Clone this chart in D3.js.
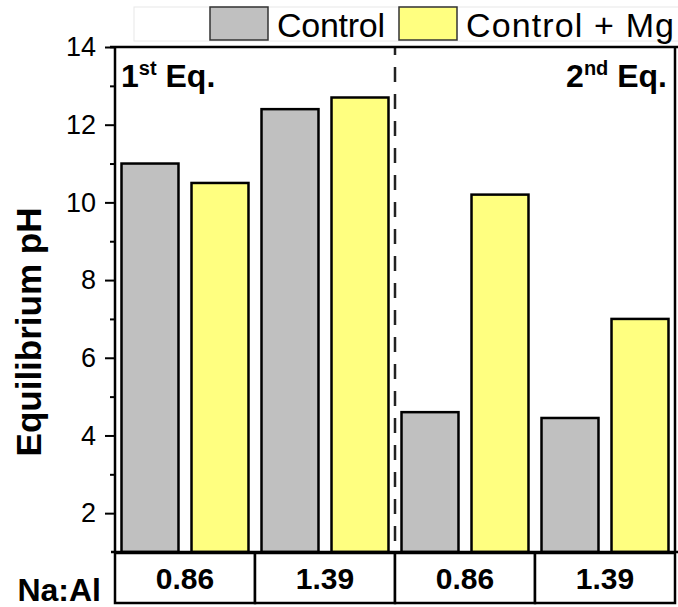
<!DOCTYPE html>
<html>
<head>
<meta charset="utf-8">
<script src="https://cdn.jsdelivr.net/npm/d3@7"></script>
<style>
  body { margin: 0; background: #fff; }
  svg { font-family: "Liberation Sans", Arial, sans-serif; }
</style>
</head>
<body>
<svg id="chart" width="678" height="607"></svg>
<script>
// data
const ratios = ["0.86", "1.39", "0.86", "1.39"];
const series = ["Control", "Control + Mg"];
const control = [11.0, 12.4, 4.6, 4.45];
const controlMg = [10.5, 12.7, 10.2, 7.0];
const majorTicks = [2, 4, 6, 8, 10, 12, 14];
const minorTicks = [3, 5, 7, 9, 11, 13];
const colors = ["#c0c0c0", "#ffff80"];

const svg = d3.select("#chart");

const plotLeft = 115, plotRight = 675, plotTop = 47, plotBottom = 552;

const y = d3.scaleLinear().domain([1, 14]).range([plotBottom, plotTop]);

const x0 = d3.scaleBand()
    .domain(d3.range(ratios.length))
    .range([plotLeft, plotRight])
    .padding(0);

const x1 = d3.scaleBand()
    .domain(series)
    .range([0, x0.bandwidth()])
    .paddingInner(0.186)
    .paddingOuter(0.093);

const rows = ratios.map((r, i) => ({ i, vals: [control[i], controlMg[i]] }));

// bars
const g = svg.selectAll(".grp")
    .data(rows)
    .enter().append("g")
    .attr("transform", d => `translate(${x0(d.i)},0)`);

g.selectAll("rect")
    .data(d => d.vals.map((v, k) => ({ k, v })))
    .enter().append("rect")
    .attr("x", d => x1(series[d.k]))
    .attr("y", d => y(d.v))
    .attr("width", x1.bandwidth())
    .attr("height", d => plotBottom - y(d.v))
    .attr("fill", d => colors[d.k])
    .attr("stroke", "#000")
    .attr("stroke-width", 2.5);

// dashed separator between the two equilibria
svg.append("line")
    .attr("x1", x0(2)).attr("x2", x0(2))
    .attr("y1", plotTop).attr("y2", plotBottom)
    .attr("stroke", "#222")
    .attr("stroke-width", 2.5)
    .attr("stroke-dasharray", "15,12")
    .attr("stroke-dashoffset", 7);

// frame
svg.append("line").attr("x1", 110).attr("x2", plotRight + 3).attr("y1", plotTop).attr("y2", plotTop)
    .attr("stroke", "#000").attr("stroke-width", 2.5);
svg.append("line").attr("x1", plotLeft).attr("x2", plotLeft).attr("y1", plotTop).attr("y2", plotBottom)
    .attr("stroke", "#000").attr("stroke-width", 2.5);
svg.append("line").attr("x1", plotRight).attr("x2", plotRight).attr("y1", plotTop).attr("y2", plotBottom)
    .attr("stroke", "#000").attr("stroke-width", 2.5);
svg.append("line").attr("x1", 111).attr("x2", plotRight + 3).attr("y1", plotBottom).attr("y2", plotBottom)
    .attr("stroke", "#000").attr("stroke-width", 2.5);

// y axis
const yAxis = svg.append("g")
    .attr("transform", `translate(${plotLeft},0)`)
    .call(d3.axisLeft(y).tickValues(majorTicks).tickSize(10).tickPadding(9).tickSizeOuter(0));
yAxis.select(".domain").remove();
yAxis.selectAll("line").attr("stroke", "#000").attr("stroke-width", 2);
yAxis.selectAll("text")
    .attr("font-size", 27)
    .attr("font-family", "Liberation Sans, Arial, sans-serif")
    .attr("fill", "#000");

const yMinor = svg.append("g")
    .attr("transform", `translate(${plotLeft},0)`)
    .call(d3.axisLeft(y).tickValues(minorTicks).tickSize(5).tickFormat(""));
yMinor.select(".domain").remove();
yMinor.selectAll("line").attr("stroke", "#000").attr("stroke-width", 2);

svg.append("text")
    .attr("transform", "translate(41,332) rotate(-90)")
    .attr("text-anchor", "middle")
    .attr("font-weight", "bold")
    .attr("font-size", 35)
    .text("Equilibrium pH");

// region labels
const t1 = svg.append("text").attr("x", 121).attr("y", 87)
    .attr("font-weight", "bold").attr("font-size", 32);
t1.append("tspan").text("1");
t1.append("tspan").attr("font-size", 20).attr("dy", -12).text("st");
t1.append("tspan").attr("dy", 12).text(" Eq.");

const t2 = svg.append("text").attr("x", 667).attr("y", 87)
    .attr("text-anchor", "end")
    .attr("font-weight", "bold").attr("font-size", 32);
t2.append("tspan").text("2");
t2.append("tspan").attr("font-size", 20).attr("dy", -12).text("nd");
t2.append("tspan").attr("dy", 12).text(" Eq.");

// table under the axis
const tableTop = 553, tableBottom = 603;
svg.selectAll(".cell")
    .data(ratios)
    .enter().append("rect")
    .attr("x", (d, i) => x0(i))
    .attr("y", tableTop)
    .attr("width", x0.bandwidth())
    .attr("height", tableBottom - tableTop)
    .attr("fill", "#fff")
    .attr("stroke", "#000")
    .attr("stroke-width", 2.5);

svg.selectAll(".cellText")
    .data(ratios)
    .enter().append("text")
    .attr("x", (d, i) => x0(i) + x0.bandwidth() / 2)
    .attr("y", 589)
    .attr("text-anchor", "middle")
    .attr("font-weight", "bold")
    .attr("font-size", 30)
    .text(d => d);

svg.append("text")
    .attr("x", 101).attr("y", 601)
    .attr("text-anchor", "end")
    .attr("font-weight", "bold")
    .attr("font-size", 32)
    .text("Na:Al");

// legend
svg.append("rect")
    .attr("x", 134).attr("y", 7).attr("width", 560).attr("height", 34)
    .attr("fill", "#fff").attr("stroke", "#e8e8e8").attr("stroke-width", 1);

const legX = [210, 399];
const legTextX = [277, 466];
const legTextW = [108, 208];
series.forEach((s, k) => {
    svg.append("rect")
        .attr("x", legX[k]).attr("y", 7)
        .attr("width", 58).attr("height", 33)
        .attr("fill", colors[k])
        .attr("stroke", "#333").attr("stroke-width", 1.5);
    svg.append("text")
        .attr("x", legTextX[k]).attr("y", 37)
        .attr("font-size", 34)
        .attr("textLength", legTextW[k])
        .attr("lengthAdjust", "spacing")
        .text(s);
});
</script>
</body>
</html>
